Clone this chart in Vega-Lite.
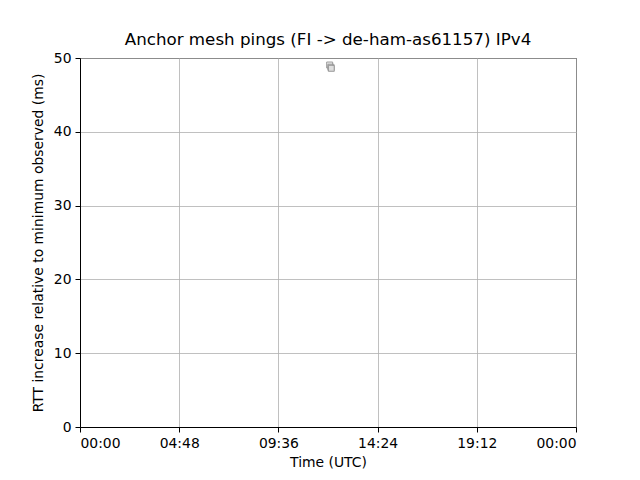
{
  "$schema": "https://vega.github.io/schema/vega-lite/v6.json",
  "width": 496,
  "height": 369,
  "autosize": "none",
  "padding": {"left": 80, "top": 58, "right": 64, "bottom": 53},
  "background": "white",
  "config": {
    "font": "DejaVu Sans",
    "view": {"stroke": "black", "strokeWidth": 1},
    "axis": {
      "domainColor": "black",
      "tickColor": "black",
      "tickSize": 5,
      "labelFontSize": 13.9,
      "labelColor": "black",
      "titleFontSize": 13.9,
      "titleFontWeight": "normal",
      "titleColor": "black",
      "gridColor": "#b0b0b0",
      "gridWidth": 0.8,
      "labelPadding": 4
    }
  },
  "title": {
    "text": "Anchor mesh pings (FI -> de-ham-as61157) IPv4",
    "fontSize": 16.7,
    "fontWeight": "normal",
    "font": "DejaVu Sans",
    "color": "black",
    "offset": 2
  },
  "data": {
    "values": [
      {"hour": 12.08, "rtt": 49.05},
      {"hour": 12.14, "rtt": 48.75},
      {"hour": 12.16, "rtt": 48.6}
    ]
  },
  "mark": {
    "type": "point",
    "shape": "square",
    "filled": true,
    "size": 36,
    "fill": "#e0e0e0",
    "stroke": "#888888",
    "strokeWidth": 1,
    "opacity": 0.8
  },
  "encoding": {
    "x": {
      "field": "hour",
      "type": "quantitative",
      "scale": {"domain": [0, 24], "nice": false, "zero": false},
      "axis": {
        "values": [0, 4.8, 9.6, 14.4, 19.2, 24],
        "labelExpr": "pad(floor(datum.value + 0.001) % 24, 2, '0', 'left') + ':' + pad(round((datum.value % 1) * 60) % 60, 2, '0', 'left')",
        "title": "Time (UTC)",
        "titlePadding": 6
      }
    },
    "y": {
      "field": "rtt",
      "type": "quantitative",
      "scale": {"domain": [0, 50], "nice": false},
      "axis": {
        "values": [0, 10, 20, 30, 40, 50],
        "title": "RTT increase relative to minimum observed (ms)",
        "titlePadding": 8
      }
    }
  }
}
